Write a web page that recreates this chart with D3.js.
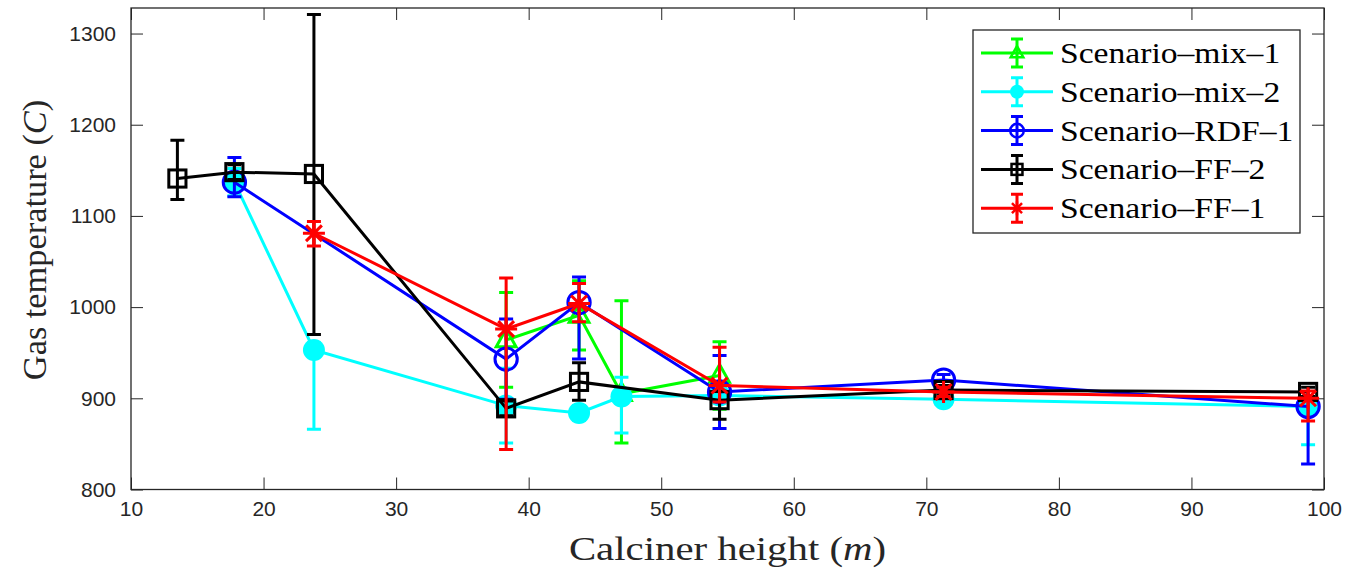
<!DOCTYPE html>
<html>
<head>
<meta charset="utf-8">
<script src="https://cdn.jsdelivr.net/npm/d3@7"></script>
<style>
  body { margin: 0; background: #fff; }
  .tick text { font-family: "Liberation Sans", Arial, sans-serif; font-size: 21px; fill: #262626; }
</style>
</head>
<body>
<div id="chart"></div>
<script>
// Gas temperature vs calciner height, errorbar plot

// x positions (m) and values (C) per scenario, lower / upper error
var hMix1 = [38.3, 43.8, 47.0, 54.4];
var tMix1 = [964, 991, 905, 925];
var loMix1 = [52, 38, 54, 37];
var upMix1 = [52, 38, 102, 37];

var hMix2 = [17.8, 23.8, 38.3, 43.8, 47.0, 54.4, 71.3, 98.8];
var tMix2 = [1137, 953, 892, 884, 902, 903, 899, 891];
var loMix2 = [15, 87, 41, 8, 40, 8, 5, 42];
var upMix2 = [15, 8, 41, 8, 21, 8, 5, 8];

var hRdf1 = [17.8, 38.3, 43.8, 54.4, 71.3, 98.8];
var tRdf1 = [1137, 943, 1005, 907, 920, 891];
var loRdf1 = [16, 44, 62, 40, 6, 63];
var upRdf1 = [27, 44, 28, 40, 6, 8];

var hFf2 = [13.5, 17.8, 23.8, 38.3, 43.8, 54.4, 71.3, 98.8];
var tFf2 = [1141, 1148, 1146, 889, 918, 898, 909, 907];
var loFf2 = [23, 8, 176, 8, 20, 21, 5, 5];
var upFf2 = [42, 8, 175, 8, 21, 10, 5, 5];

var hFf1 = [23.8, 38.3, 43.8, 54.4, 71.3, 98.8];
var tFf1 = [1081, 976, 1004, 914, 907, 900];
var loFf1 = [14, 132, 20, 18, 5, 25];
var upFf1 = [13, 56, 22, 42, 5, 8];

var names = ["Scenario\u2013mix\u20131", "Scenario\u2013mix\u20132", "Scenario\u2013RDF\u20131", "Scenario\u2013FF\u20132", "Scenario\u2013FF\u20131"];
var colors = ["#00ff00", "#00ffff", "#0000ff", "#000000", "#ff0000"];
var markers = ["triangle", "dot", "circle", "square", "star"];

var xTicks = [10, 20, 30, 40, 50, 60, 70, 80, 90, 100];
var yTicks = [800, 900, 1000, 1100, 1200, 1300];

var series = [
    {h: hMix1, t: tMix1, lo: loMix1, up: upMix1},
    {h: hMix2, t: tMix2, lo: loMix2, up: upMix2},
    {h: hRdf1, t: tRdf1, lo: loRdf1, up: upRdf1},
    {h: hFf2, t: tFf2, lo: loFf2, up: upFf2},
    {h: hFf1, t: tFf1, lo: loFf1, up: upFf1}
].map(function(s, i) {
    return {
        name: names[i], color: colors[i], marker: markers[i],
        pts: s.h.map(function(h, j) { return {x: h, y: s.t[j], lo: s.t[j] - s.lo[j], hi: s.t[j] + s.up[j]}; })
    };
});

var svgWidth = 1346, svgHeight = 573;
var plotLeft = 131, plotRight = 1324, plotTop = 8, plotBottom = 489.5;

var svg = d3.select("#chart")
    .append("svg")
        .attr("width", svgWidth)
        .attr("height", svgHeight);

var x = d3.scaleLinear().domain([10, 100]).range([plotLeft, plotRight]);
var y = d3.scaleLinear().domain([800, 1328]).range([plotBottom, plotTop]);

// axes (ticks pointing inward, box around)
var axisColor = "#262626";
var gx = svg.append("g")
    .attr("transform", "translate(0," + plotBottom + ")")
    .call(d3.axisBottom(x).tickValues(xTicks).tickFormat(d3.format("d")).tickSizeInner(-12).tickSizeOuter(0).tickPadding(12));
var gy = svg.append("g")
    .attr("transform", "translate(" + plotLeft + ",0)")
    .call(d3.axisLeft(y).tickValues(yTicks).tickFormat(d3.format("d")).tickSizeInner(-12).tickSizeOuter(0).tickPadding(15));
var gxTop = svg.append("g")
    .attr("transform", "translate(0," + plotTop + ")")
    .call(d3.axisTop(x).tickValues(xTicks).tickSizeInner(-12).tickSizeOuter(0).tickFormat(""));
var gyRight = svg.append("g")
    .attr("transform", "translate(" + plotRight + ",0)")
    .call(d3.axisRight(y).tickValues(yTicks).tickSizeInner(-12).tickSizeOuter(0).tickFormat(""));
[gx, gy, gxTop, gyRight].forEach(function(g) {
    g.select(".domain").remove();
    g.selectAll(".tick line").attr("stroke", axisColor).attr("stroke-width", 1);
});
svg.append("rect")
    .attr("x", plotLeft).attr("y", plotTop)
    .attr("width", plotRight - plotLeft).attr("height", plotBottom - plotTop)
    .attr("fill", "none")
    .attr("stroke", axisColor)
    .attr("stroke-width", 1.3);

// stretch serif text so it is as wide as the LaTeX font
function widen(t, f) {
    var w = t.node().getComputedTextLength();
    t.attr("textLength", w * f).attr("lengthAdjust", "spacingAndGlyphs");
}

// axis titles
var xTitle = svg.append("text")
    .attr("x", (plotLeft + plotRight) / 2)
    .attr("y", 560)
    .attr("text-anchor", "middle")
    .style("font-family", "'Liberation Serif', serif")
    .style("font-size", "34px")
    .attr("fill", axisColor);
xTitle.append("tspan").text("Calciner height (");
xTitle.append("tspan").style("font-style", "italic").text("m");
xTitle.append("tspan").text(")");
widen(xTitle, 1.2);

var yTitle = svg.append("text")
    .attr("transform", "translate(46,240)rotate(-90)")
    .attr("text-anchor", "middle")
    .style("font-family", "'Liberation Serif', serif")
    .style("font-size", "34px")
    .attr("fill", axisColor);
yTitle.append("tspan").text("Gas temperature (");
yTitle.append("tspan").style("font-style", "italic").text("C");
yTitle.append("tspan").text(")");
widen(yTitle, 1.01);

// marker drawing
function drawMarker(g, type, color, r, sw) {
    if (type == "triangle") {
        g.append("path")
            .attr("d", "M0," + (-r) + "L" + (r * 0.9) + "," + (r * 0.62) + "L" + (-r * 0.9) + "," + (r * 0.62) + "Z")
            .attr("fill", "none").attr("stroke", color).attr("stroke-width", sw);
    } else if (type == "dot") {
        g.append("circle").attr("r", r).attr("fill", color);
    } else if (type == "circle") {
        g.append("circle").attr("r", r * 1.15 - sw / 2).attr("fill", "none").attr("stroke", color).attr("stroke-width", sw);
    } else if (type == "square") {
        var s = r * 0.78;
        g.append("rect").attr("x", -s).attr("y", -s).attr("width", 2 * s).attr("height", 2 * s)
            .attr("fill", "none").attr("stroke", color).attr("stroke-width", sw);
    } else if (type == "star") {
        var d = r * 0.72;
        g.append("path")
            .attr("d", "M" + (-r) + ",0L" + r + ",0M0," + (-r) + "L0," + r +
                "M" + (-d) + "," + (-d) + "L" + d + "," + d + "M" + (-d) + "," + d + "L" + d + "," + (-d))
            .attr("fill", "none").attr("stroke", color).attr("stroke-width", sw);
    }
}

var line = d3.line()
    .x(function(d) { return x(d.x); })
    .y(function(d) { return y(d.y); });

var cap = 7;
series.forEach(function(s) {
    var g = svg.append("g");
    g.append("path")
        .datum(s.pts)
        .attr("d", line)
        .attr("fill", "none")
        .attr("stroke", s.color)
        .attr("stroke-width", 3);
    g.selectAll(".eb")
        .data(s.pts)
        .enter().append("path")
            .attr("d", function(d) {
                var cx = x(d.x), y0 = y(d.lo), y1 = y(d.hi);
                return "M" + cx + "," + y0 + "L" + cx + "," + y1 +
                    "M" + (cx - cap) + "," + y0 + "L" + (cx + cap) + "," + y0 +
                    "M" + (cx - cap) + "," + y1 + "L" + (cx + cap) + "," + y1;
            })
            .attr("fill", "none")
            .attr("stroke", s.color)
            .attr("stroke-width", 3);
    s.pts.forEach(function(d) {
        var m = g.append("g").attr("transform", "translate(" + x(d.x) + "," + y(d.y) + ")");
        drawMarker(m, s.marker, s.color, 11, 3);
    });
});

// legend
var legendG = svg.append("g")
    .attr("class", "legend");
legendG.append("rect")
    .attr("x", 973).attr("y", 30)
    .attr("width", 327).attr("height", 203)
    .attr("fill", "#fff")
    .attr("stroke", axisColor)
    .attr("stroke-width", 1.3);

series.forEach(function(s, i) {
    var ly = 53 + i * 38.8;
    var row = legendG.append("g").attr("transform", "translate(0," + ly + ")");
    row.append("line")
        .attr("x1", 981).attr("x2", 1053)
        .attr("stroke", s.color).attr("stroke-width", 3);
    row.append("path")
        .attr("d", "M1017,-14L1017,14M1011,-14L1023,-14M1011,14L1023,14")
        .attr("stroke", s.color).attr("stroke-width", 3).attr("fill", "none");
    var m = row.append("g").attr("transform", "translate(1017,0)");
    drawMarker(m, s.marker, s.color, 7, 2.5);
    var t = row.append("text")
        .attr("x", 1060)
        .attr("y", 10)
        .style("font-family", "'Liberation Serif', serif")
        .style("font-size", "30px")
        .attr("fill", "#000")
        .text(s.name);
    widen(t, 1.12);
});
</script>
</body>
</html>
